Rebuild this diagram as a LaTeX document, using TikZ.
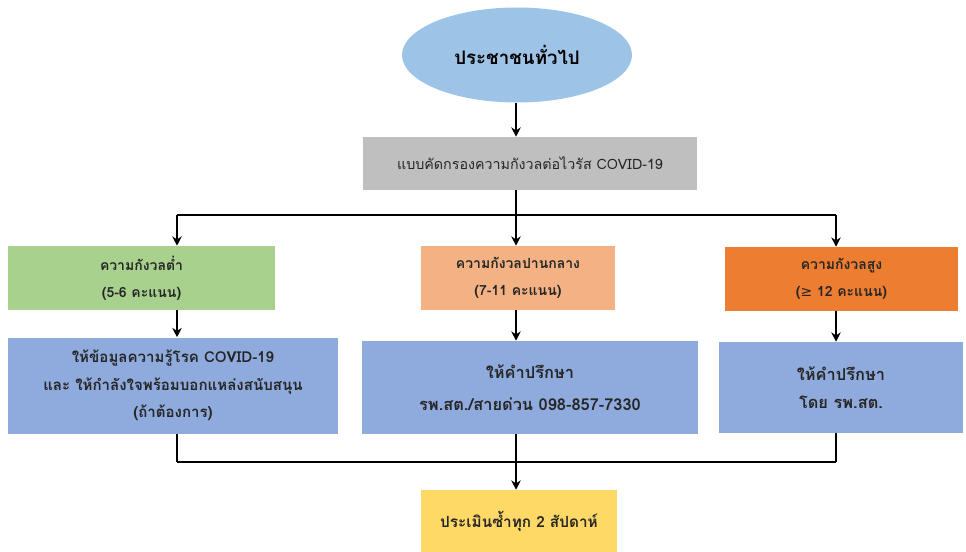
\documentclass[tikz,border=0pt]{standalone}
\usepackage{fontspec}
\newfontfamily\thaifont[Script=Thai]{Loma}
\newfontfamily\symfont{DejaVu Sans}
\usepackage{xcolor}
\usetikzlibrary{positioning,arrows.meta,shapes.geometric}

\definecolor{startblue}{HTML}{9DC3E6}
\definecolor{screengray}{HTML}{BFBFBF}
\definecolor{lowgreen}{HTML}{A9D18E}
\definecolor{midpeach}{HTML}{F4B183}
\definecolor{highorange}{HTML}{ED7D31}
\definecolor{actblue}{HTML}{8FAADC}
\definecolor{againyellow}{HTML}{FFD966}
\definecolor{txtgray}{HTML}{262626}

\tikzset{
  box/.style={rectangle, inner sep=0pt, align=center, text=txtgray,
    font=\thaifont\fontsize{10.5}{20}\selectfont\bfseries},
  level/.style={box, minimum height=48pt},
  action/.style={box, fill=actblue, font=\thaifont\fontsize{12.3}{21}\selectfont\bfseries},
  line/.style={line width=1.6pt, black},
  arr/.style={line, -{Stealth[length=7pt,width=7pt]}}
}

\begin{document}
\begin{tikzpicture}[x=0.75pt,y=-0.75pt]
  \useasboundingbox (0,0) rectangle (966,552);

  % start and screening
  \node[ellipse, fill=startblue, minimum width=172.5pt, minimum height=71.25pt,
        inner sep=0pt, text=black, font=\thaifont\fontsize{14}{16}\selectfont\bfseries]
        (people) at (517,55) {ประชาชนทั่วไป};
  \node[box, fill=screengray, minimum width=250.5pt, minimum height=39.75pt,
        font=\thaifont\fontsize{10.7}{20}\selectfont]
        (screen) at (530,163.5) {แบบคัดกรองความกังวลต่อไวรัส COVID-19};

  % levels of anxiety
  \node[level, fill=lowgreen, minimum width=200.25pt] (low) at (141.5,278)
        {ความกังวลต่ำ\\(5-6 คะแนน)};
  \node[level, fill=midpeach, minimum width=145.5pt] (mid) at (518,278)
        {ความกังวลปานกลาง\\(7-11 คะแนน)};
  \node[level, fill=highorange, minimum width=174.75pt] (high) at (841.5,279)
        {ความกังวลสูง\\({\symfont\mdseries ≥} 12 คะแนน)};

  % what to do
  \node[action, minimum width=247.5pt, minimum height=72pt,
        font=\thaifont\fontsize{11.3}{20.5}\selectfont\bfseries] (lowact) at (173,385.5)
        {ให้ข้อมูลความรู้โรค COVID-19\\และ ให้กำลังใจพร้อมบอกแหล่งสนับสนุน\\(ถ้าต้องการ)};
  \node[action, minimum width=252pt, minimum height=69.75pt] (midact) at (530,387.5)
        {ให้คำปรึกษา\\[3pt]รพ.สต./สายด่วน 098-857-7330};
  \node[action, minimum width=183pt, minimum height=68.25pt] (highact) at (841,387.5)
        {ให้คำปรึกษา\\โดย รพ.สต.};

  \node[box, fill=againyellow, minimum width=147pt, minimum height=46.5pt,
        font=\thaifont\fontsize{11.5}{20}\selectfont\bfseries] (again) at (519,521)
        {ประเมินซ้ำทุก 2 สัปดาห์};

  % connectors
  \coordinate (splitL) at (177,215);
  \coordinate (splitM) at (516,215);
  \coordinate (splitR) at (836,215);
  \coordinate (joinL) at (177,462);
  \coordinate (joinM) at (516,462);
  \coordinate (joinR) at (836,462);

  \draw[arr] (splitM |- people.south) -- (splitM |- screen.north);
  \draw[line] (splitM |- screen.south) -- (splitM);
  \draw[line] (splitL) -- (splitR);
  \foreach \c/\n in {L/low,M/mid,R/high}{
    \draw[arr] (split\c) -- (split\c |- \n.north);
    \draw[arr] (split\c |- \n.south) -- (split\c |- \n act.north);
    \draw[line] (join\c |- \n act.south) -- (join\c);
  }
  \draw[line] (joinL) -- (joinR);
  \draw[arr] (joinM) -- (joinM |- again.north);
\end{tikzpicture}
\end{document}
